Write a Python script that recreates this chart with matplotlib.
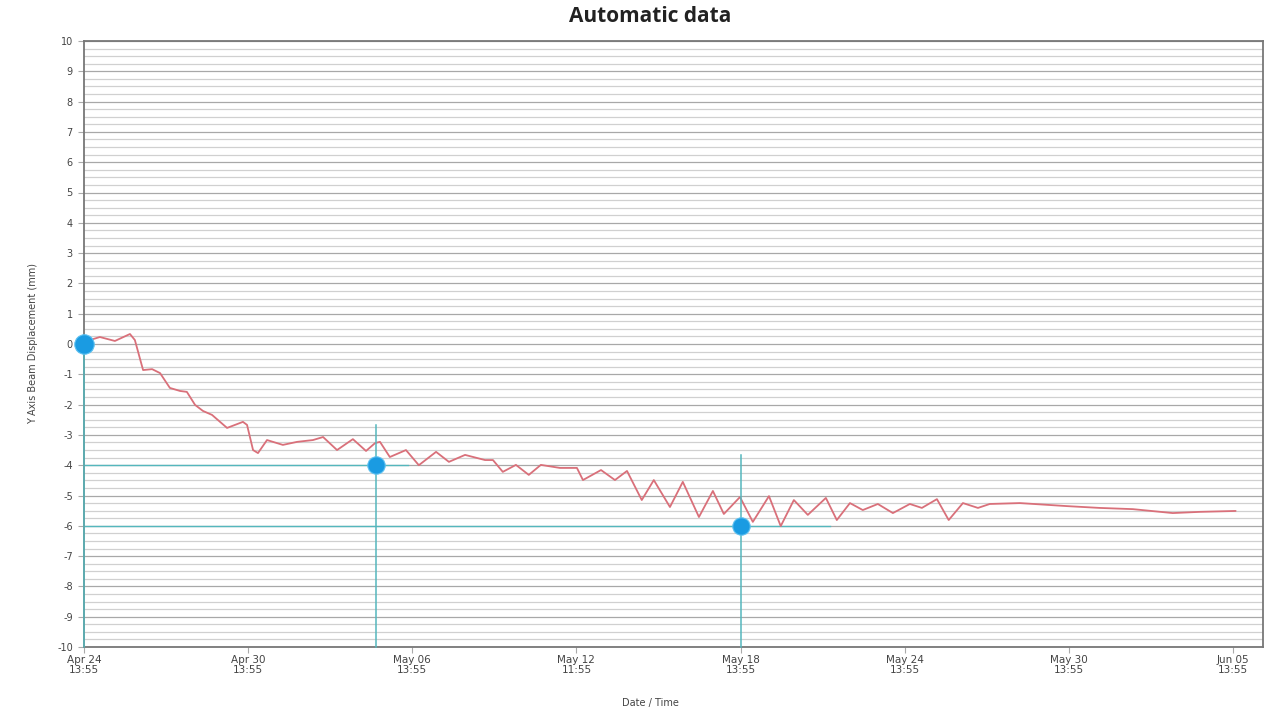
import matplotlib
matplotlib.use("Agg")
import matplotlib.pyplot as plt
import numpy as np
from datetime import datetime, timedelta
from matplotlib.ticker import MultipleLocator

# ---- data ----
start_time = datetime(2016, 4, 24, 13, 55)
elapsed_days = [0.00, 0.58, 1.13, 1.68, 1.86, 2.16, 2.49, 2.78, 3.14, 3.51, 3.76, 4.06, 4.35, 4.68,
                5.23, 5.81, 5.96, 6.18, 6.36, 6.69, 7.27, 7.79, 8.37, 8.74, 9.25, 9.83, 10.31,
                10.64, 10.82, 11.18, 11.77, 12.24, 12.87, 13.34, 13.93, 14.66, 14.95, 15.31,
                15.79, 16.26, 16.70, 17.40, 18.02, 18.24, 18.90, 19.41, 19.85, 20.39, 20.83,
                21.42, 21.89, 22.48, 22.99, 23.39, 23.98, 24.45, 25.04, 25.47, 25.95, 26.46,
                27.12, 27.52, 28.00, 28.47, 29.02, 29.57, 30.19, 30.63, 31.18, 31.61, 32.13,
                32.68, 33.11, 34.21, 35.93, 37.13, 38.34, 39.80, 40.79, 42.10]
displacement = [0.07, 0.23, 0.10, 0.33, 0.13, -0.86, -0.83, -0.96, -1.45, -1.55, -1.58, -2.01,
                -2.21, -2.34, -2.77, -2.57, -2.67, -3.50, -3.60, -3.17, -3.33, -3.23, -3.17,
                -3.07, -3.50, -3.14, -3.53, -3.27, -3.23, -3.73, -3.50, -4.00, -3.56, -3.89,
                -3.66, -3.83, -3.83, -4.22, -3.99, -4.32, -3.99, -4.09, -4.09, -4.49, -4.16,
                -4.49, -4.19, -5.15, -4.49, -5.38, -4.55, -5.71, -4.85, -5.61, -5.05, -5.87,
                -5.02, -6.01, -5.15, -5.64, -5.08, -5.81, -5.25, -5.48, -5.28, -5.58, -5.28,
                -5.41, -5.12, -5.81, -5.25, -5.41, -5.28, -5.25, -5.35, -5.41, -5.45, -5.58,
                -5.54, -5.51]

# highlighted points: (elapsed days, value, top of vertical guide, end of horizontal guide)
marker_days = [0.0, 10.67, 24.01]
marker_values = [0.0, -4.0, -6.0]
marker_sizes = [14, 12.5, 12.5]
vguide_top = [0.0, -2.67, -3.66]
hguide_end_days = [0.0, 11.84, 27.27]

tick_days = [0, 6, 12, 18, 24, 30, 36, 42]
tick_labels = ["Apr 24\n13:55", "Apr 30\n13:55", "May 06\n13:55", "May 12\n11:55",
               "May 18\n13:55", "May 24\n13:55", "May 30\n13:55", "Jun 05\n13:55"]
x_end_days = 43.1
y_min, y_max = -10, 10

def to_dt(d):
    return start_time + timedelta(days=d)

times = [to_dt(d) for d in elapsed_days]

fig = plt.figure(figsize=(12.81, 7.11), dpi=100)
ax = fig.add_axes([84/1281, 1-647/711, (1263-84)/1281, (647-41)/711])

ax.set_xlim(to_dt(0), to_dt(x_end_days))
ax.set_ylim(y_min, y_max)

# grid
ax.yaxis.set_major_locator(MultipleLocator(1))
ax.yaxis.set_minor_locator(MultipleLocator(0.25))
ax.grid(which='major', axis='y', color='#a8a8a8', lw=0.9)
ax.grid(which='minor', axis='y', color='#d0d0d0', lw=0.9)
ax.set_axisbelow(True)

for s in ax.spines.values():
    s.set_color('#777777')
    s.set_linewidth(1.3)

teal = '#55b7bd'
# guide lines
for md, mv, vt, he in zip(marker_days, marker_values, vguide_top, hguide_end_days):
    ax.plot([to_dt(md), to_dt(md)], [y_min, vt], color=teal, lw=1.1, zorder=5, clip_on=False)
    if he > 0:
        ax.plot([to_dt(0), to_dt(he)], [mv, mv], color=teal, lw=1.0, zorder=2)

# series
ax.plot(times, displacement, color='#d9707a', lw=1.3, zorder=3,
        solid_joinstyle='round', solid_capstyle='round')

# markers
for md, mv, ms in zip(marker_days, marker_values, marker_sizes):
    ax.plot([to_dt(md)], [mv], 'o', color='#1a9be2', markersize=ms,
            markeredgecolor='#5cc0f0', markeredgewidth=0.8, zorder=6, clip_on=False)

ax.set_xticks([to_dt(d) for d in tick_days])
ax.set_xticklabels(tick_labels, fontsize=7.5, color='#444444', linespacing=1.05)
ax.set_yticks(range(y_min, y_max + 1))
ax.set_yticklabels([str(v) for v in range(y_min, y_max + 1)], fontsize=7, color='#444444')
ax.tick_params(axis='x', which='major', length=4, color='#aaaaaa', pad=1.5)
ax.tick_params(axis='y', which='major', length=4, color='#aaaaaa', pad=4)
ax.tick_params(axis='y', which='minor', length=0)

ax.set_ylabel("Y Axis Beam Displacement (mm)", fontsize=7, color='#444444', labelpad=14)
fig.text(650/1281, 1-703/711, "Date / Time", fontsize=7, color='#444444', ha='center', va='center')
fig.text(650/1281, 1-17/711, "Automatic data", fontsize=15, fontweight='bold',
         family='Open Sans', color='#222222', ha='center', va='center')

fig.savefig("out.png", dpi=100, facecolor='white')
